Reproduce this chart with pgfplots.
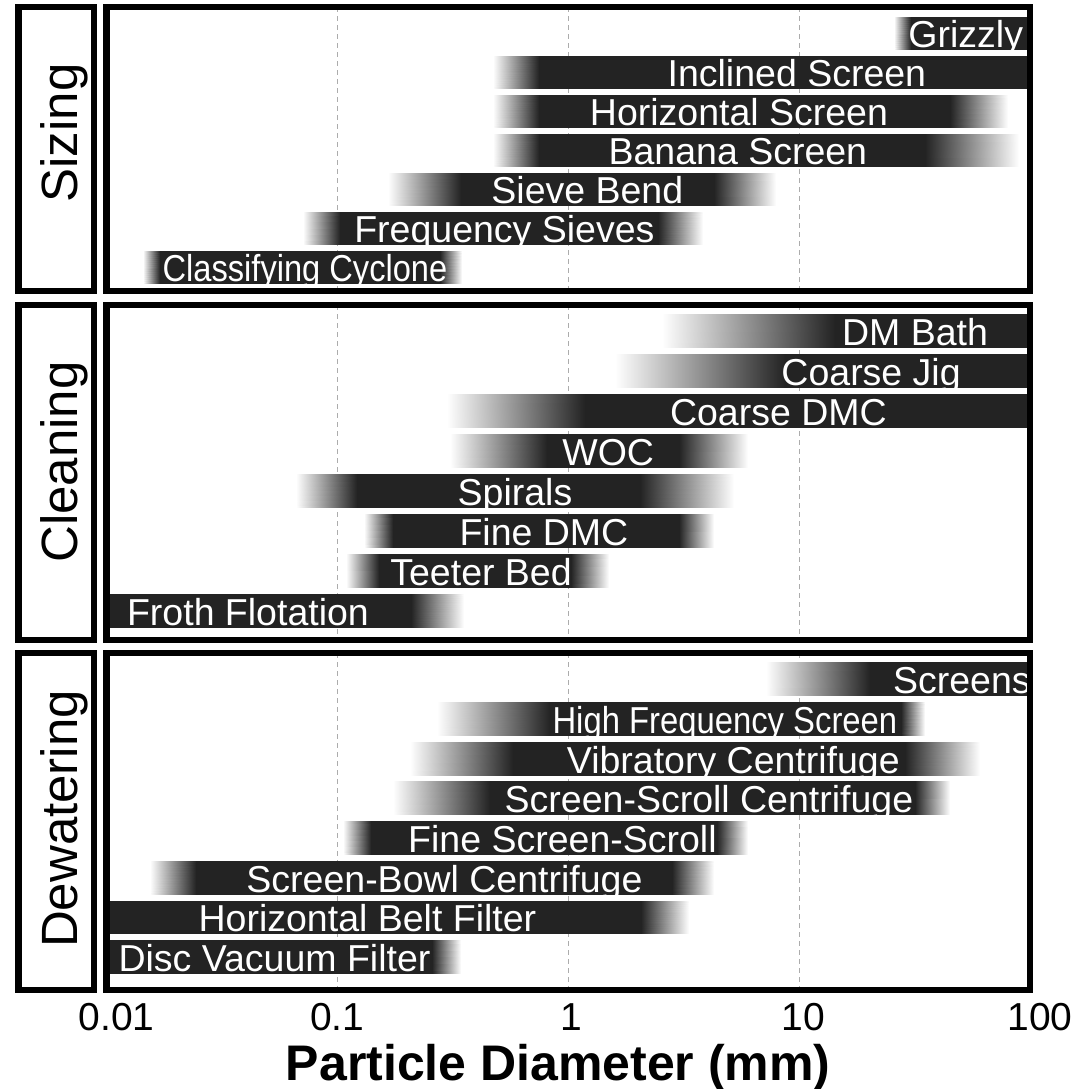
\documentclass[border=0pt]{standalone}
\usepackage{fontspec}
\setmainfont{Liberation Sans}
\usepackage{graphicx}
\usepackage{pgfplots}
\pgfplotsset{compat=1.18}

\tikzset{lbl/.style={anchor=base, text=white, inner sep=0pt,
    font=\fontsize{18.75}{18.75}\selectfont}}

% one faded bar: y top, y bottom, fade start, solid start, solid end, fade end
\newcommand{\gbar}[6]{%
  \addplot[surf, shader=interp, mesh/cols=4, point meta=explicit] coordinates {
    (#3,#1) [0] (#4,#1) [1] (#5,#1) [1] (#6,#1) [0]
    (#3,#2) [0] (#4,#2) [1] (#5,#2) [1] (#6,#2) [0]
  };
}

\begin{document}
\begin{tikzpicture}
\useasboundingbox (0,0) rectangle (542.5pt,-544.5pt);

% ---- Sizing ----
\begin{axis}[name=sizing, at={(53.25pt,-3.5pt)}, anchor=north west,
    scale only axis, width=461.75pt, height=142pt,
    xmode=log, xmin=0.01, xmax=100, ymin=-0.667, ymax=6.615, y dir=reverse,
    xtick={0.01,0.1,1,10,100}, xticklabels={,,,,}, ytick=\empty,
    xminorticks=false, major tick length=0pt,
    xmajorgrids, grid style={gray!65, line width=0.5pt, dash pattern=on 2.5pt off 2pt},
    axis line style={draw=none},
    colormap={bargrad}{rgb255=(255,255,255) rgb255=(35,35,35)},
    point meta min=0, point meta max=1, clip mode=individual]
\gbar{-0.42}{0.42}{25.8}{30.5}{100}{100}
\gbar{0.58}{1.42}{0.47}{0.75}{100}{100}
\gbar{1.58}{2.42}{0.47}{0.75}{45}{80}
\gbar{2.58}{3.42}{0.47}{0.75}{35.1}{89.5}
\gbar{3.58}{4.42}{0.166}{0.343}{4.28}{7.94}
\gbar{4.58}{5.42}{0.071}{0.1026}{2.45}{3.83}
\gbar{5.58}{6.42}{0.0144}{0.0171}{0.278}{0.347}
\node[lbl] at (axis cs:52.7,0.37) {Grizzly};
\node[lbl] at (axis cs:9.78,1.37) {Inclined Screen};
\node[lbl] at (axis cs:5.49,2.37) {Horizontal Screen};
\node[lbl] at (axis cs:5.43,3.37) {Banana Screen};
\node[lbl] at (axis cs:1.21,4.37) {Sieve Bend};
\node[lbl] at (axis cs:0.529,5.37) {Frequency Sieves};
\node[lbl] at (axis cs:0.0724,6.37) {\scalebox{0.87}[1]{Classifying Cyclone}};
\end{axis}

% ---- Cleaning ----
\begin{axis}[name=cleaning, at={(53.25pt,-152.5pt)}, anchor=north west,
    scale only axis, width=461.75pt, height=167.5pt,
    xmode=log, xmin=0.01, xmax=100, ymin=-0.65, ymax=7.725, y dir=reverse,
    xtick={0.01,0.1,1,10,100}, xticklabels={,,,,}, ytick=\empty,
    xminorticks=false, major tick length=0pt,
    xmajorgrids, grid style={gray!65, line width=0.5pt, dash pattern=on 2.5pt off 2pt},
    axis line style={draw=none},
    colormap={bargrad}{rgb255=(255,255,255) rgb255=(35,35,35)},
    point meta min=0, point meta max=1, clip mode=individual]
\gbar{-0.42}{0.42}{2.55}{14.3}{100}{100}
\gbar{0.58}{1.42}{1.59}{8.67}{100}{100}
\gbar{1.58}{2.42}{0.299}{1.18}{100}{100}
\gbar{2.58}{3.42}{0.307}{0.809}{3.02}{6.0}
\gbar{3.58}{4.42}{0.0663}{0.1216}{2.05}{5.22}
\gbar{4.58}{5.42}{0.1304}{0.174}{3.02}{4.28}
\gbar{5.58}{6.42}{0.109}{0.151}{1.03}{1.50}
\gbar{6.58}{7.42}{0.01}{0.01}{0.209}{0.353}
\node[lbl] at (axis cs:31.8,0.37) {DM Bath};
\node[lbl] at (axis cs:20.5,1.37) {Coarse Jig};
\node[lbl] at (axis cs:8.13,2.37) {Coarse DMC};
\node[lbl] at (axis cs:1.49,3.37) {WOC};
\node[lbl] at (axis cs:0.588,4.37) {Spirals};
\node[lbl] at (axis cs:0.785,5.37) {Fine DMC};
\node[lbl] at (axis cs:0.419,6.37) {Teeter Bed};
\node[lbl] at (axis cs:0.041,7.37) {Froth Flotation};
\end{axis}

% ---- Dewatering ----
\begin{axis}[name=dewatering, at={(53.25pt,-326.5pt)}, anchor=north west,
    scale only axis, width=461.75pt, height=168.5pt,
    xmode=log, xmin=0.01, xmax=100, ymin=-0.655, ymax=7.832, y dir=reverse,
    xtick={0.01,0.1,1,10,100},
    xticklabels={\hspace{10pt}0.01,0.1,\hspace{3pt}1,\hspace{4pt}10,\hspace{10pt}100},
    ytick=\empty,
    xminorticks=false, major tick length=0pt,
    xmajorgrids, grid style={gray!65, line width=0.5pt, dash pattern=on 2.5pt off 2pt},
    axis line style={draw=none},
    colormap={bargrad}{rgb255=(255,255,255) rgb255=(35,35,35)},
    point meta min=0, point meta max=1, clip mode=individual,
    xticklabel style={anchor=base, yshift=-20pt, font=\fontsize{19.5}{19.5}\selectfont},
    xlabel={Particle Diameter (mm)},
    xlabel style={at={(axis description cs:0.5,0)}, anchor=base, yshift=-45pt, xshift=-5pt,
        font=\fontsize{25}{25}\selectfont\bfseries}]
\gbar{-0.42}{0.42}{7.18}{20.3}{100}{100}
\gbar{0.58}{1.42}{0.270}{0.834}{27.6}{35.1}
\gbar{1.58}{2.42}{0.206}{0.576}{28.7}{60.7}
\gbar{2.58}{3.42}{0.174}{0.458}{31.7}{45}
\gbar{3.58}{4.42}{0.1057}{0.14}{4.41}{6.0}
\gbar{4.58}{5.42}{0.0154}{0.0244}{2.81}{4.28}
\gbar{5.58}{6.42}{0.01}{0.01}{2.07}{3.33}
\gbar{6.58}{7.42}{0.01}{0.01}{0.257}{0.343}
\node[lbl] at (axis cs:50.7,0.37) {Screens};
\node[lbl] at (axis cs:4.77,1.37) {\scalebox{0.875}[1]{High Frequency Screen}};
\node[lbl] at (axis cs:5.19,2.37) {Vibratory Centrifuge};
\node[lbl] at (axis cs:4.07,3.37) {Screen-Scroll Centrifuge};
\node[lbl] at (axis cs:0.944,4.37) {Fine Screen-Scroll};
\node[lbl] at (axis cs:0.291,5.37) {Screen-Bowl Centrifuge};
\node[lbl] at (axis cs:0.135,6.37) {Horizontal Belt Filter};
\node[lbl] at (axis cs:0.0534,7.37) {Disc Vacuum Filter};
\end{axis}

% frames and group boxes
\foreach \p/\n/\ty in {sizing/Sizing/-66.5pt, cleaning/Cleaning/-231pt, dewatering/Dewatering/-409.5pt}{
  \draw[line width=3.2pt] (\p.south west) rectangle (\p.north east);
  \draw[line width=3.2pt] ([xshift=-44pt]\p.north west) rectangle ([xshift=-6.25pt]\p.south west);
  \node[rotate=90, font=\fontsize{25.5}{25.5}\selectfont, inner sep=0pt] at (32pt,\ty) {\n};
}
\end{tikzpicture}
\end{document}
